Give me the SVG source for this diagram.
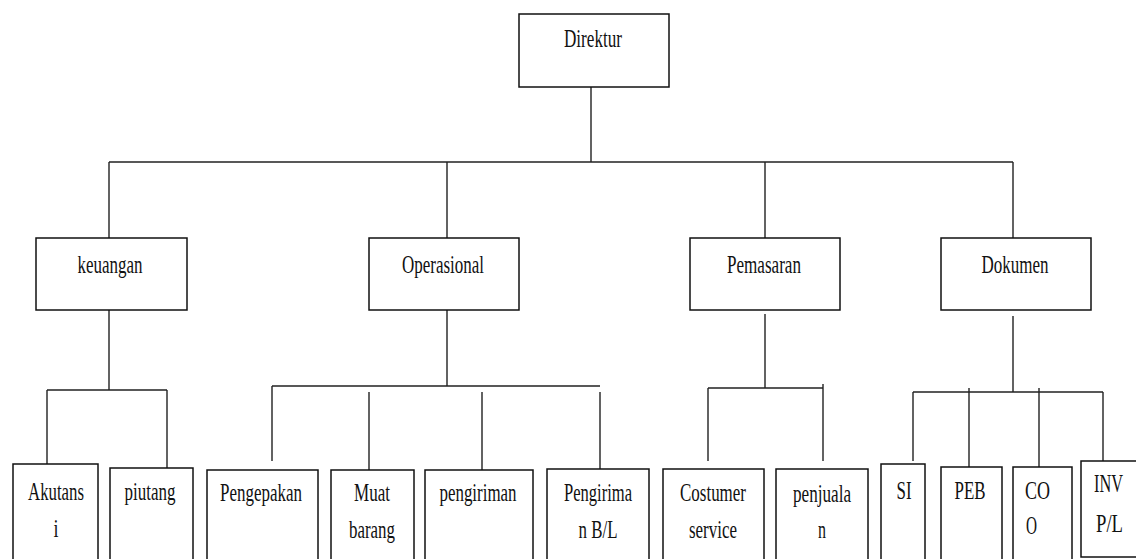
<svg xmlns="http://www.w3.org/2000/svg" width="1136" height="559" viewBox="0 0 1136 559">
<style>
.box{fill:#fff;stroke:#111;stroke-width:1.5}
.ln{fill:none;stroke:#222;stroke-width:1.4}
.t{font-family:"Liberation Serif","Liberation Sans",serif;font-size:25px;fill:#111;text-anchor:middle}
.s{text-anchor:start}
</style>
<rect width="1136" height="559" fill="#fff"/>
<g id="connectors">
<path class="ln" d="M591 87V162M109 162H1013M109 162V238M447 162V238M765 162V238M1013 162V238"/>
<path class="ln" d="M109 310V390M47 390H167M47 390V464M167 390V468"/>
<path class="ln" d="M447 310V386M272 386H600M272 386V461M369 392V470M482 392V470M600 392V470"/>
<path class="ln" d="M765 314V388M708 388H823M708 388V461M823 384V461"/>
<path class="ln" d="M1013 316V392M913 392H1103M913 392V461M969 388V467M1039 388V467M1103 392V470"/>
</g>
<g id="direktur"><rect class="box" x="519" y="14" width="150" height="73"/><text class="t" x="593" y="47" textLength="58" lengthAdjust="spacingAndGlyphs">Direktur</text></g>
<g id="keuangan"><rect class="box" x="36" y="238" width="151" height="72"/><text class="t" x="110" y="273" textLength="65" lengthAdjust="spacingAndGlyphs">keuangan</text></g>
<g id="operasional"><rect class="box" x="369" y="238" width="150" height="72"/><text class="t" x="443" y="273" textLength="82" lengthAdjust="spacingAndGlyphs">Operasional</text></g>
<g id="pemasaran"><rect class="box" x="690" y="238" width="150" height="72"/><text class="t" x="764" y="273" textLength="74" lengthAdjust="spacingAndGlyphs">Pemasaran</text></g>
<g id="dokumen"><rect class="box" x="941" y="238" width="150" height="72"/><text class="t" x="1015" y="273" textLength="67" lengthAdjust="spacingAndGlyphs">Dokumen</text></g>
<g id="akutansi"><rect class="box" x="13" y="464" width="85" height="110"/><text class="t" x="56" y="500" textLength="56" lengthAdjust="spacingAndGlyphs">Akutans</text><text class="t" x="56" y="537" textLength="5" lengthAdjust="spacingAndGlyphs">i</text></g>
<g id="piutang"><rect class="box" x="110" y="468" width="83" height="110"/><text class="t" x="150" y="500" textLength="51" lengthAdjust="spacingAndGlyphs">piutang</text></g>
<g id="pengepakan"><rect class="box" x="207" y="470" width="111" height="110"/><text class="t" x="261" y="501" textLength="82" lengthAdjust="spacingAndGlyphs">Pengepakan</text></g>
<g id="muat"><rect class="box" x="331" y="470" width="83" height="110"/><text class="t" x="372" y="501" textLength="36" lengthAdjust="spacingAndGlyphs">Muat</text><text class="t" x="372" y="538" textLength="46" lengthAdjust="spacingAndGlyphs">barang</text></g>
<g id="pengiriman"><rect class="box" x="425" y="470" width="108" height="110"/><text class="t" x="478" y="501" textLength="77" lengthAdjust="spacingAndGlyphs">pengiriman</text></g>
<g id="pengiriman-bl"><rect class="box" x="547" y="469" width="102" height="110"/><text class="t" x="598" y="501" textLength="68" lengthAdjust="spacingAndGlyphs">Pengirima</text><text class="t" x="598" y="538" textLength="39" lengthAdjust="spacingAndGlyphs">n B/L</text></g>
<g id="costumer"><rect class="box" x="663" y="469" width="101" height="110"/><text class="t" x="713" y="501" textLength="66" lengthAdjust="spacingAndGlyphs">Costumer</text><text class="t" x="713" y="538" textLength="48" lengthAdjust="spacingAndGlyphs">service</text></g>
<g id="penjualan"><rect class="box" x="776" y="469" width="92" height="110"/><text class="t" x="822" y="502" textLength="58" lengthAdjust="spacingAndGlyphs">penjuala</text><text class="t" x="822" y="538" textLength="8" lengthAdjust="spacingAndGlyphs">n</text></g>
<g id="si"><rect class="box" x="881" y="464" width="44" height="110"/><text class="t" x="904" y="499" textLength="15" lengthAdjust="spacingAndGlyphs">SI</text></g>
<g id="peb"><rect class="box" x="941" y="467" width="61" height="110"/><text class="t" x="970" y="499" textLength="31" lengthAdjust="spacingAndGlyphs">PEB</text></g>
<g id="coo"><rect class="box" x="1013" y="467" width="59" height="110"/><text class="t s" x="1025" y="499" textLength="25" lengthAdjust="spacingAndGlyphs">CO</text><text class="t s" x="1026" y="534" textLength="11" lengthAdjust="spacingAndGlyphs">O</text></g>
<g id="inv"><rect class="box" x="1081" y="461" width="60" height="96"/><text class="t s" x="1094" y="492" textLength="29" lengthAdjust="spacingAndGlyphs">INV</text><text class="t s" x="1096" y="532" textLength="27" lengthAdjust="spacingAndGlyphs">P/L</text></g>
</svg>
